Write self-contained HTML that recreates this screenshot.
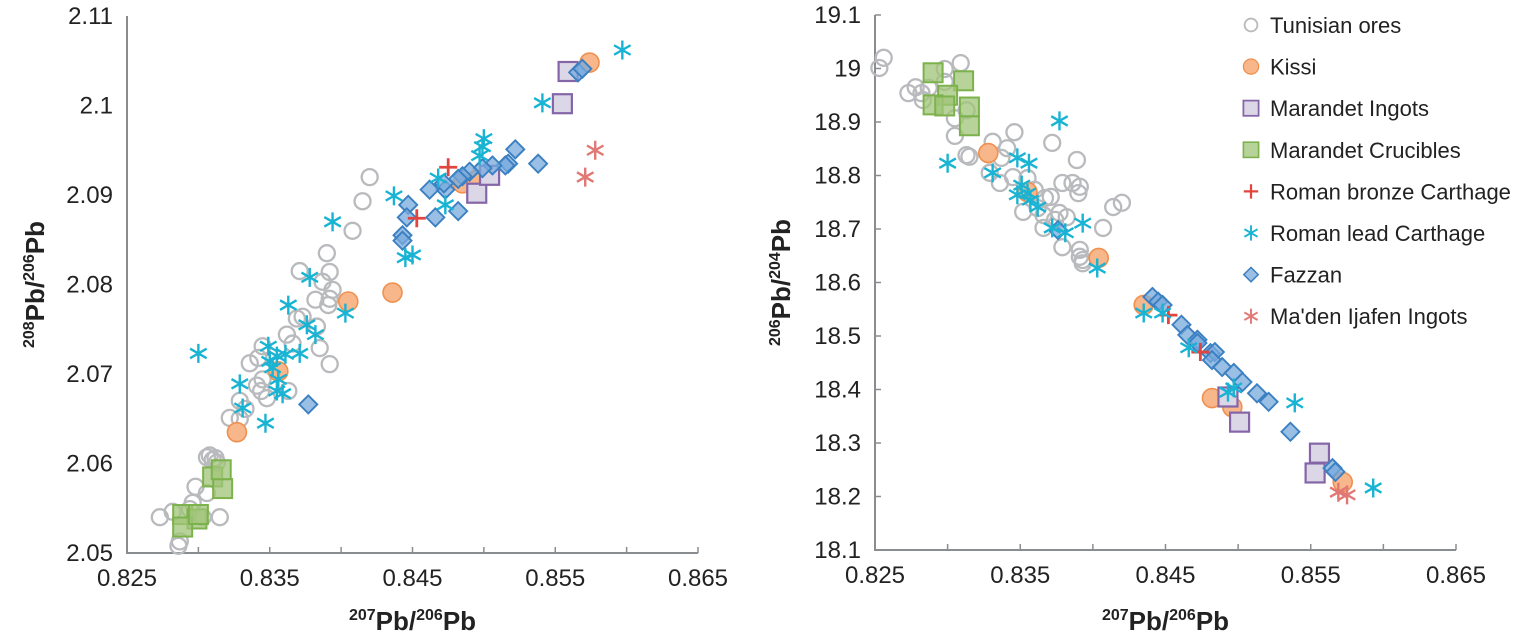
<!DOCTYPE html>
<html><head><meta charset="utf-8"><style>
body{margin:0;background:#fff;}
svg{display:block;font-family:"Liberation Sans",Arial,sans-serif;}
.tick{font-size:24px;fill:#222;}
.ttl{font-size:26px;font-weight:bold;fill:#222;}
.leg{font-size:22px;fill:#222;}
</style></head><body>
<svg id="chart" width="1535" height="641" viewBox="0 0 1535 641" xmlns="http://www.w3.org/2000/svg"></svg>
<script>
// ---------- Left chart data: 207Pb/206Pb (x) vs 208Pb/206Pb (y) ----------
const L_tunisian_x=[0.8420,0.8415,0.8408,0.8390,0.8392,0.8371,0.8387,0.8394,0.8392,0.8391,0.8382,0.8369,0.8373,0.8383,0.8385,0.8392,0.8362,0.8366,0.8345,0.8342,0.8336,0.8345,0.8341,0.8344,0.8348,0.8363,0.8329,0.8333,0.8322,0.8329,0.8308,0.8312,0.8306,0.8310,0.8313,0.8298,0.8306,0.8296,0.8273,0.8315,0.8287,0.8286,0.8294,0.8303,0.8282];
const L_tunisian_y=[2.0920,2.0893,2.0860,2.0835,2.0814,2.0815,2.0803,2.0794,2.0784,2.0777,2.0783,2.0762,2.0764,2.0753,2.0729,2.0711,2.0744,2.0734,2.0731,2.0718,2.0712,2.0694,2.0687,2.0681,2.0673,2.0681,2.0670,2.0661,2.0651,2.0650,2.0609,2.0606,2.0607,2.0604,2.0601,2.0574,2.0567,2.0556,2.0540,2.0540,2.0513,2.0508,2.0549,2.0540,2.0546];
const L_kissi_x=[0.8327,0.8356,0.8405,0.8436,0.8485,0.8495,0.8574];
const L_kissi_y=[2.0635,2.0703,2.0781,2.0791,2.0913,2.0917,2.1048];
const L_ingots_x=[0.8559,0.8555,0.8495,0.8504];
const L_ingots_y=[2.1038,2.1002,2.0902,2.0922];
const L_cruc_x=[0.8310,0.8317,0.8316,0.8289,0.8299,0.8289,0.8300];
const L_cruc_y=[2.0585,2.0572,2.0593,2.0543,2.0538,2.0529,2.0543];
const L_bronze_x=[0.8475,0.8453];
const L_bronze_y=[2.0931,2.0874];
const L_lead_x=[0.8597,0.8541,0.8500,0.8499,0.8497,0.8468,0.8473,0.8437,0.8445,0.8450,0.8394,0.8378,0.8363,0.8403,0.8300,0.8376,0.8382,0.8371,0.8349,0.8355,0.8352,0.8356,0.8329,0.8355,0.8359,0.8331,0.8347,0.8361,0.8350];
const L_lead_y=[2.1062,2.1003,2.0963,2.0954,2.0944,2.0919,2.0889,2.0899,2.0830,2.0833,2.0870,2.0808,2.0777,2.0768,2.0723,2.0755,2.0744,2.0723,2.0731,2.0720,2.0707,2.0694,2.0689,2.0681,2.0678,2.0662,2.0645,2.0722,2.0714];
const L_fazzan_x=[0.8566,0.8569,0.8538,0.8522,0.8517,0.8515,0.8506,0.8499,0.8490,0.8485,0.8482,0.8473,0.8472,0.8462,0.8482,0.8466,0.8447,0.8446,0.8443,0.8443,0.8377];
const L_fazzan_y=[2.1037,2.1041,2.0935,2.0951,2.0935,2.0933,2.0933,2.0930,2.0926,2.0921,2.0918,2.0906,2.0913,2.0906,2.0882,2.0875,2.0889,2.0875,2.0855,2.0849,2.0666];
const L_maden_x=[0.8578,0.8571];
const L_maden_y=[2.0950,2.0920];
const L_xticks=[0.825,0.835,0.845,0.855,0.865];
const L_yticks=[2.05,2.06,2.07,2.08,2.09,2.10,2.11];
const L_ylabels=["2.05","2.06","2.07","2.08","2.09","2.1","2.11"];

// ---------- Right chart data: 207Pb/206Pb (x) vs 206Pb/204Pb (y) ----------
const R_tunisian_x=[0.8256,0.8253,0.8309,0.8298,0.8278,0.8273,0.8282,0.8287,0.8283,0.8298,0.8305,0.8313,0.8305,0.8313,0.8315,0.8331,0.8346,0.8341,0.8372,0.8389,0.8337,0.8336,0.8329,0.8345,0.8379,0.8386,0.8391,0.8390,0.8371,0.8367,0.8362,0.8366,0.8352,0.8377,0.8382,0.8374,0.8414,0.8420,0.8407,0.8366,0.8379,0.8391,0.8391,0.8393,0.8393,0.8360,0.8355];
const R_tunisian_y=[19.020,19.001,19.010,18.999,18.965,18.954,18.954,18.964,18.941,18.975,18.907,18.922,18.874,18.838,18.835,18.863,18.881,18.851,18.861,18.829,18.833,18.786,18.805,18.797,18.786,18.786,18.779,18.767,18.760,18.758,18.739,18.726,18.732,18.730,18.722,18.717,18.741,18.749,18.702,18.702,18.666,18.661,18.648,18.636,18.642,18.773,18.795];
const R_kissi_x=[0.8435,0.8482,0.8496,0.8572,0.8328,0.8404,0.8355];
const R_kissi_y=[18.558,18.384,18.367,18.227,18.842,18.646,18.769];
const R_ingots_x=[0.8493,0.8501,0.8556,0.8553];
const R_ingots_y=[18.386,18.339,18.281,18.244];
const R_cruc_x=[0.8290,0.8311,0.8300,0.8290,0.8298,0.8315,0.8315];
const R_cruc_y=[18.992,18.977,18.950,18.932,18.930,18.928,18.893];
const R_bronze_x=[0.8452,0.8474];
const R_bronze_y=[18.539,18.470];
const R_lead_x=[0.8435,0.8448,0.8466,0.8497,0.8493,0.8539,0.8593,0.8377,0.8300,0.8348,0.8356,0.8331,0.8351,0.8355,0.8357,0.8362,0.8372,0.8381,0.8393,0.8403,0.8348];
const R_lead_y=[18.543,18.543,18.478,18.403,18.395,18.375,18.216,18.902,18.823,18.833,18.823,18.805,18.782,18.767,18.754,18.741,18.702,18.693,18.711,18.627,18.764];
const R_fazzan_x=[0.8441,0.8445,0.8448,0.8461,0.8465,0.8472,0.8472,0.8481,0.8484,0.8482,0.8489,0.8497,0.8503,0.8513,0.8521,0.8536,0.8565,0.8567,0.8376];
const R_fazzan_y=[18.573,18.564,18.558,18.521,18.502,18.493,18.487,18.468,18.470,18.455,18.442,18.431,18.414,18.393,18.377,18.321,18.253,18.246,18.698];
const R_maden_x=[0.8569,0.8575];
const R_maden_y=[18.208,18.203];
const R_xticks=[0.825,0.835,0.845,0.855,0.865];
const R_yticks=[18.1,18.2,18.3,18.4,18.5,18.6,18.7,18.8,18.9,19.0,19.1];
const R_ylabels=["18.1","18.2","18.3","18.4","18.5","18.6","18.7","18.8","18.9","19","19.1"];

const legendNames=["Tunisian ores","Kissi","Marandet Ingots","Marandet Crucibles","Roman bronze Carthage","Roman lead Carthage","Fazzan","Ma'den Ijafen Ingots"];

const NS="http://www.w3.org/2000/svg";
const svg=document.getElementById('chart');
function mk(tag,attrs,parent){const e=document.createElementNS(NS,tag);for(const k in attrs)e.setAttribute(k,attrs[k]);(parent||svg).appendChild(e);return e;}

function marker(g,type,cx,cy,s){
  let e;
  if(type==='tunisian'){e=mk('circle',{cx,cy,r:8*s,fill:'none',stroke:'#b9babd','stroke-width':2.3*s},g);}
  else if(type==='kissi'){e=mk('circle',{cx,cy,r:9.5*s,fill:'#f8b68b',stroke:'#f0904f','stroke-width':1.6*s},g);}
  else if(type==='ingots'){const h=9.5*s;e=mk('rect',{x:cx-h,y:cy-h,width:2*h,height:2*h,fill:'#dcd7e7',stroke:'#8466a8','stroke-width':2.2*s},g);}
  else if(type==='cruc'){const h=9.5*s;e=mk('rect',{x:cx-h,y:cy-h,width:2*h,height:2*h,fill:'rgba(160,196,120,0.75)',stroke:'#7cb24c','stroke-width':2*s},g);}
  else if(type==='bronze'){const h=9*s;e=mk('path',{d:`M${cx-h},${cy}H${cx+h}M${cx},${cy-h}V${cy+h}`,stroke:'#e0453f','stroke-width':2.8*s,fill:'none'},g);}
  else if(type==='lead'||type==='maden'){const h=9.5*s,d=h*0.87,c=type==='lead'?'#19b3d3':'#e27874';e=mk('path',{d:`M${cx},${cy-h}V${cy+h}M${cx-d},${cy-h/2}L${cx+d},${cy+h/2}M${cx-d},${cy+h/2}L${cx+d},${cy-h/2}`,stroke:c,'stroke-width':2.4*s,fill:'none'},g);}
  else if(type==='fazzan'){const h=9*s;e=mk('path',{d:`M${cx},${cy-h}L${cx+h},${cy}L${cx},${cy+h}L${cx-h},${cy}Z`,fill:'rgba(120,170,220,0.75)',stroke:'#3b80c2','stroke-width':1.9*s},g);}
  return e;
}

function drawChart(cfg){
  const g=mk('g',{});
  
  
  const sx=v=>cfg.x0+(v-cfg.xmin)/(cfg.xmax-cfg.xmin)*(cfg.x1-cfg.x0);
  const sy=v=>cfg.y0-(v-cfg.ymin)/(cfg.ymax-cfg.ymin)*(cfg.y0-cfg.y1);
  const ax=mk('path',{d:`M${cfg.x0},${cfg.y1}V${cfg.y0}H${cfg.x1}`,stroke:'#8a8d90','stroke-width':2,fill:'none'},g);
  
  
  for(let i=0;i<=8;i++){const v=cfg.xmin+i*0.005;const px=sx(v);
    const t=mk('line',{x1:px,x2:px,y1:cfg.y0,y2:cfg.y0-6,stroke:'#8a8d90','stroke-width':1.5},g);
    
    }
  cfg.xticks.forEach(v=>{const t=mk('text',{x:sx(v),y:cfg.y0+33,'text-anchor':'middle',class:'tick'},g);t.textContent=v.toFixed(3);
    
    });
  cfg.yticks.forEach((v,i)=>{
    if(cfg.ytickmarks){const m=mk('line',{x1:cfg.x0,x2:cfg.x0+6,y1:sy(v),y2:sy(v),stroke:'#8a8d90','stroke-width':1.5},g);
      
      }
    const t=mk('text',{x:cfg.x0-14,y:sy(v)+8,'text-anchor':'end',class:'tick'},g);t.textContent=cfg.ylabels[i];
    
    });
  const order=['tunisian','cruc','kissi','ingots','fazzan','bronze','lead','maden'];
  order.forEach(k=>{const xs=cfg.series[k][0],ys=cfg.series[k][1];
    const sg=mk('g',{},g);
    
    
    xs.forEach((v,i)=>{const m=marker(sg,k,sx(v),sy(ys[i]),1);
      
      });
  });
  const xt=mk('text',{x:(cfg.x0+cfg.x1)/2,y:630,'text-anchor':'middle',class:'ttl'},g);
  xt.innerHTML='<tspan dy="-10" font-size="16">207</tspan><tspan dy="10">Pb/</tspan><tspan dy="-10" font-size="16">206</tspan><tspan dy="10">Pb</tspan>';
  
  
  const yt=mk('text',{x:0,y:0,'text-anchor':'middle',class:'ttl',transform:`translate(${cfg.ytx},${(cfg.y0+cfg.y1)/2}) rotate(-90)`},g);
  yt.innerHTML=cfg.ytitle;
  
  
}

drawChart({name:'left-chart',x0:127,x1:698,y0:553,y1:16,xmin:0.825,xmax:0.865,ymin:2.05,ymax:2.11,xticks:L_xticks,yticks:L_yticks,ylabels:L_ylabels,ytickmarks:false,ytx:44,
  ytitle:'<tspan dy="-10" font-size="16">208</tspan><tspan dy="10">Pb/</tspan><tspan dy="-10" font-size="16">206</tspan><tspan dy="10">Pb</tspan>',
  series:{tunisian:[L_tunisian_x,L_tunisian_y],kissi:[L_kissi_x,L_kissi_y],ingots:[L_ingots_x,L_ingots_y],cruc:[L_cruc_x,L_cruc_y],bronze:[L_bronze_x,L_bronze_y],lead:[L_lead_x,L_lead_y],fazzan:[L_fazzan_x,L_fazzan_y],maden:[L_maden_x,L_maden_y]}});
drawChart({name:'right-chart',x0:875,x1:1456,y0:550,y1:15,xmin:0.825,xmax:0.865,ymin:18.1,ymax:19.1,xticks:R_xticks,yticks:R_yticks,ylabels:R_ylabels,ytickmarks:true,ytx:790,
  ytitle:'<tspan dy="-10" font-size="16">206</tspan><tspan dy="10">Pb/</tspan><tspan dy="-10" font-size="16">204</tspan><tspan dy="10">Pb</tspan>',
  series:{tunisian:[R_tunisian_x,R_tunisian_y],kissi:[R_kissi_x,R_kissi_y],ingots:[R_ingots_x,R_ingots_y],cruc:[R_cruc_x,R_cruc_y],bronze:[R_bronze_x,R_bronze_y],lead:[R_lead_x,R_lead_y],fazzan:[R_fazzan_x,R_fazzan_y],maden:[R_maden_x,R_maden_y]}});

const lg=mk('g',{});


const legTypes=['tunisian','kissi','ingots','cruc','bronze','lead','fazzan','maden'];
legendNames.forEach((n,i)=>{const y=25+i*41.6;
  const eg=mk('g',{},lg);
  
  
  marker(eg,legTypes[i],1251,y,0.8);
  const t=mk('text',{x:1270,y:y+8,class:'leg'},eg);t.textContent=n;
});
</script>
</body></html>
